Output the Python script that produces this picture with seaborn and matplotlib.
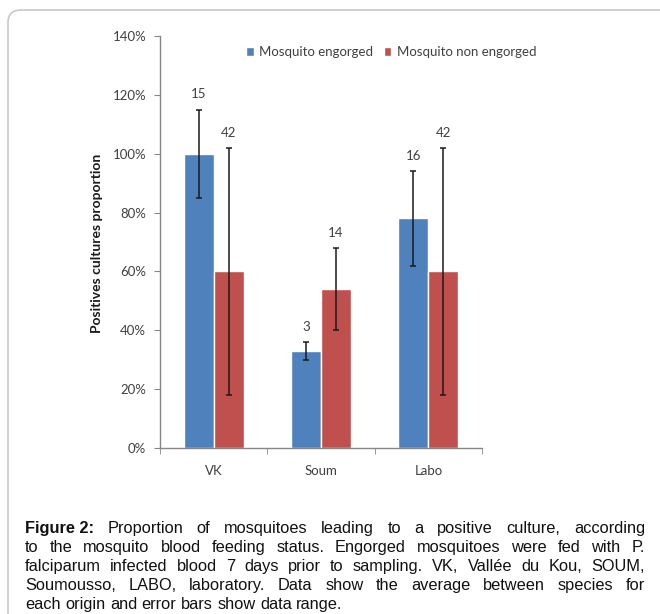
import matplotlib
matplotlib.use('Agg')
import matplotlib.pyplot as plt
from matplotlib.patches import FancyBboxPatch
import seaborn as sns
import pandas as pd

# data
sites = ['VK', 'Soum', 'Labo']
statuses = ['Mosquito engorged', 'Mosquito non engorged']
engorged = [1.00, 0.33, 0.78]
engorged_lo = [0.85, 0.30, 0.62]
engorged_hi = [1.15, 0.36, 0.94]
engorged_n = [15, 3, 16]
non_engorged = [0.60, 0.54, 0.60]
non_engorged_lo = [0.18, 0.40, 0.18]
non_engorged_hi = [1.02, 0.68, 1.02]
non_engorged_n = [42, 14, 42]
y_ticks = [0, 0.2, 0.4, 0.6, 0.8, 1.0, 1.2, 1.4]

caption_lines = [
    'Proportion of mosquitoes leading to a positive culture, according',
    'to the mosquito blood feeding status. Engorged mosquitoes were fed with P.',
    'falciparum infected blood 7 days prior to sampling. VK, Vallée du Kou, SOUM,',
    'Soumousso, LABO, laboratory. Data show the average between species for',
    'each origin and error bars show data range.',
]

df = pd.DataFrame({
    'site': sites * 2,
    'status': [statuses[0]] * 3 + [statuses[1]] * 3,
    'value': engorged + non_engorged,
})

sns.set_style('white')
plt.rcParams['font.family'] = ['Lato', 'DejaVu Sans']

fig = plt.figure(figsize=(6.6, 6.14), dpi=100)
ax = fig.add_axes([160 / 660, 1 - 448 / 614, 322 / 660, 412 / 614])

# outer frame
frame = FancyBboxPatch((8 / 660, -0.1), 1.2, 1 - 10 / 614 + 0.1,
                       boxstyle='round,pad=0,rounding_size=0.02',
                       transform=fig.transFigure, facecolor='none',
                       edgecolor='#c8c8c8', linewidth=1.2, zorder=0)
fig.patches.append(frame)

sns.barplot(data=df, x='site', y='value', hue='status', order=sites,
            hue_order=statuses, palette=['#4F81BD', '#C0504D'],
            width=0.56, errorbar=None, ax=ax, saturation=1)

# error bars and counts
groups = [(engorged, engorged_lo, engorged_hi, engorged_n),
          (non_engorged, non_engorged_lo, non_engorged_hi, non_engorged_n)]
for cont, (vals, lo, hi, n) in zip(ax.containers, groups):
    for bar, v, l, h, c in zip(cont, vals, lo, hi, n):
        xc = bar.get_x() + bar.get_width() / 2
        ax.errorbar(xc, v, yerr=[[v - l], [h - v]], fmt='none',
                    ecolor='#1a1a1a', elinewidth=1.1, capsize=2.5, capthick=1.1)
        ax.annotate(str(c), (xc, h), xytext=(0, 11), textcoords='offset points',
                    ha='center', va='center', fontsize=9.5, color='#404040')

ax.set_ylim(0, 1.4)
ax.set_xlim(-0.5, 2.5)
ax.set_yticks(y_ticks)
ax.set_yticklabels([f'{int(round(t * 100))}%' for t in y_ticks])
ax.set_xticks(range(len(sites)))
ax.set_xticklabels(sites)
ax.set_xticks([-0.5, 0.5, 1.5, 2.5], minor=True)
ax.tick_params(axis='x', which='major', length=0, pad=12, labelsize=9.5, labelcolor='#404040')
ax.tick_params(axis='x', which='minor', length=4, color='#868686', direction='out', bottom=True)
ax.tick_params(axis='y', length=4, color='#868686', direction='out', left=True,
               labelsize=9.5, labelcolor='#404040', pad=6)
ax.set_xlabel('')
ax.set_ylabel('')
for s in ['top', 'right']:
    ax.spines[s].set_visible(False)
for s in ['left', 'bottom']:
    ax.spines[s].set_color('#868686')
    ax.spines[s].set_linewidth(1)

fig.text(97 / 660, 1 - 243 / 614, 'Positives cultures proportion', rotation=90,
         ha='center', va='center', fontsize=10, fontweight='bold', color='#1a1a1a')

ax.legend(loc='center', bbox_to_anchor=(391 / 660, 1 - 52 / 614),
          bbox_transform=fig.transFigure, ncol=2, frameon=False, fontsize=9.5,
          handlelength=0.6, handleheight=0.6, handletextpad=0.4, columnspacing=0.8,
          labelcolor='#404040')

# caption, justified line by line
fig.canvas.draw()
renderer = fig.canvas.get_renderer()
left_px, right_px = 25, 645
cap_font = dict(family=['Liberation Sans', 'DejaVu Sans'], fontsize=11.8, color='#111111')
t1 = fig.text(0, 0, 'a a', **cap_font)
t2 = fig.text(0, 0, 'aa', **cap_font)
sp = t1.get_window_extent(renderer).width - t2.get_window_extent(renderer).width
t1.remove()
t2.remove()
for i, line in enumerate(caption_lines):
    y = 1 - (533 + i * 19) / 614
    words = line.split(' ')
    if i == 0:
        words = ['Figure 2:'] + words
    items = []
    for j, w in enumerate(words):
        t = fig.text(0, y, w, va='baseline', ha='left',
                     fontweight='bold' if (i == 0 and j == 0) else 'normal', **cap_font)
        items.append(t)
    widths = [t.get_window_extent(renderer).width for t in items]
    if i < len(caption_lines) - 1:
        gap = max((right_px - left_px - sum(widths)) / (len(items) - 1), sp * 0.6)
    else:
        gap = sp
    x = left_px
    for t, w in zip(items, widths):
        t.set_x(x / 660)
        x += w + gap

fig.savefig('out.png', dpi=100)
